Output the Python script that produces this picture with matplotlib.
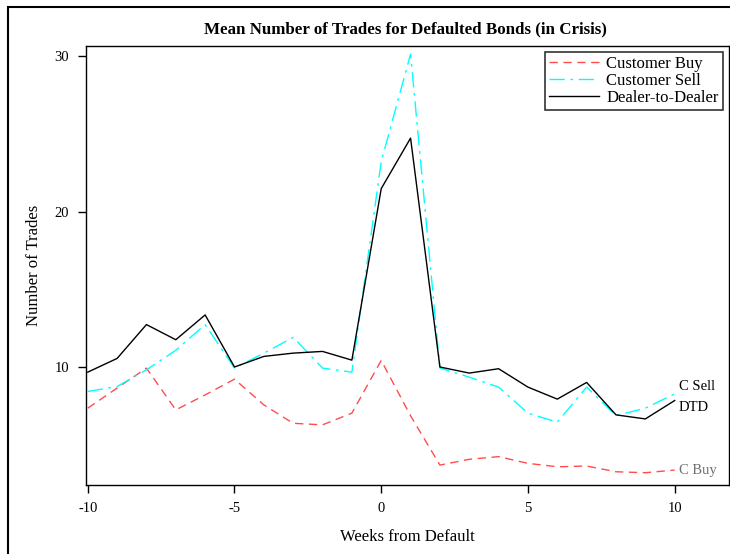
import matplotlib
matplotlib.use("Agg")
import matplotlib.pyplot as plt
from matplotlib.patches import Rectangle

plt.rcParams['font.family'] = ['Liberation Serif', 'DejaVu Serif']
plt.rcParams['axes.unicode_minus'] = False

weeks = list(range(-10, 11))
cust_buy = [7.39, 8.68, 9.96, 7.28, 8.24, 9.25, 7.60, 6.42, 6.32, 7.07, 10.45,
            6.9, 3.74, 4.11, 4.28, 3.85, 3.63, 3.68, 3.31, 3.25, 3.42]
cust_sell = [8.46, 8.78, 9.85, 11.1, 12.75, 9.96, 10.92, 11.93, 9.96, 9.70, 23.2,
             30.1, 9.96, 9.38, 8.74, 7.07, 6.49, 8.74, 6.91, 7.39, 8.31]
dtd = [9.70, 10.58, 12.75, 11.78, 13.37, 10.03, 10.71, 10.92, 11.03, 10.47, 21.47,
       24.71, 10.03, 9.64, 9.92, 8.74, 7.97, 9.04, 6.96, 6.70, 7.88]

fig = plt.figure(figsize=(7.3, 5.54), dpi=100)
ax = fig.add_axes([0.1178, 0.1245, 0.8808, 0.7925])

ax.plot(weeks, cust_buy, color="#ff4d4d", lw=1.0, dashes=(6, 4), label="Customer Buy")
ax.plot(weeks, cust_sell, color="#00ffff", lw=1.0, dashes=(11, 4, 2, 4), label="Customer Sell")
ax.plot(weeks, dtd, color="black", lw=1.0, label="Dealer-to-Dealer")

# labels at the end of each line
ax.text(10.13, cust_sell[-1] + 0.45, "C Sell", fontsize=10.5, va="center", ha="left")
ax.text(10.13, dtd[-1] - 0.45, "DTD", fontsize=10.5, va="center", ha="left")
ax.text(10.13, cust_buy[-1], "C Buy", fontsize=10.5, va="center", ha="left", color="#707070")

ax.set_xlim(-10.06, 11.85)
ax.set_ylim(2.46, 30.62)
ax.set_xticks([-10, -5, 0, 5, 10])
ax.set_yticks([10, 20, 30])
ax.tick_params(direction="out", length=6, width=1, labelsize=10.5, pad=6)
for s in ax.spines.values():
    s.set_linewidth(1.0)

ax.set_xlabel("Weeks from Default", fontsize=12, labelpad=10)
ax.set_ylabel("Number of Trades", fontsize=12, labelpad=9)
fig.text(0.555, 0.947, "Mean Number of Trades for Defaulted Bonds (in Crisis)",
         ha="center", va="center", fontsize=12.2, fontweight="bold")

leg = ax.legend(loc="upper right", fontsize=12, frameon=True, fancybox=False,
                borderaxespad=0.36, handlelength=3.0, labelspacing=0.05, borderpad=0.25,
                handletextpad=0.45)
leg.get_frame().set_edgecolor("black")
leg.get_frame().set_linewidth(1.2)

# outer frame around the whole graph
fig.patches.append(Rectangle((8 / 730, -0.05), 1.0, 1.05 - 7 / 554, transform=fig.transFigure,
                             fill=False, edgecolor="black", lw=1.5))

plt.savefig("out.png", dpi=100)
